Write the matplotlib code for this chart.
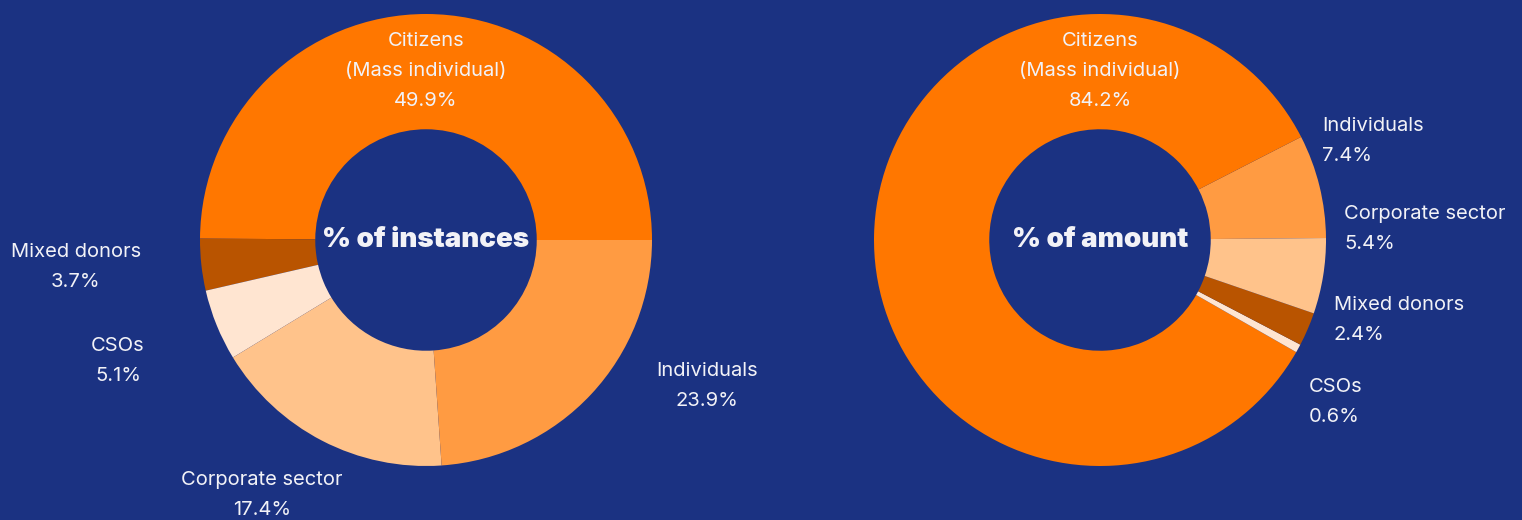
import numpy as np
import matplotlib.pyplot as plt

# ---- data ----
left_labels = ['Citizens\n(Mass individual)', 'Mixed donors', 'CSOs', 'Corporate sector', 'Individuals']
left_values = [49.9, 3.7, 5.1, 17.4, 23.9]

right_labels = ['Individuals', 'Citizens\n(Mass individual)', 'CSOs', 'Mixed donors', 'Corporate sector']
right_values = [7.4, 84.2, 0.6, 2.4, 5.4]

# colours per category
colors = {
    'Citizens\n(Mass individual)': '#FF7700',
    'Individuals': '#FF9B42',
    'Corporate sector': '#FFC38B',
    'CSOs': '#FFE5D1',
    'Mixed donors': '#B95400',
}

BG = '#1B3282'
TXT = '#F2F2F7'
FONT = ['Inter', 'DejaVu Sans']

# label anchor points (data coords, radius 1 = outer edge)
left_pos = {
    'Citizens\n(Mass individual)': (0.0, 0.748, 'center'),
    'Individuals': (1.243, -0.646, 'center'),
    'Corporate sector': (-0.726, -1.128, 'center'),
    'CSOs': (-1.363, -0.535, 'center'),
    'Mixed donors': (-1.549, -0.12, 'center'),
}
right_pos = {
    'Citizens\n(Mass individual)': (0.0, 0.748, 'center'),
    'Individuals': (0.982, 0.438, 'left'),
    'Corporate sector': (1.080, 0.049, 'left'),
    'Mixed donors': (1.035, -0.354, 'left'),
    'CSOs': (0.925, -0.717, 'left'),
}

fig = plt.figure(figsize=(15.22, 5.2), dpi=100, facecolor=BG)

R = 226  # outer radius in px
W, H = 1522, 520


def donut(cx, cy, labels, values, pos, title, start):
    ax = fig.add_axes([(cx - R) / W, (H - cy - R) / H, 2 * R / W, 2 * R / H])
    ax.set_facecolor(BG)
    ax.pie(values, colors=[colors[l] for l in labels], startangle=start,
           counterclock=True, radius=1,
           wedgeprops=dict(width=0.51, linewidth=0))
    ax.set_xlim(-1, 1)
    ax.set_ylim(-1, 1)
    ax.set_aspect('equal')
    ax.axis('off')
    for lab, v in zip(labels, values):
        x, y, ha = pos[lab]
        ax.text(x, y, f'{lab}\n{v:.1f}%', ha=ha, va='center', color=TXT,
                fontsize=14.5, family=FONT, linespacing=1.85, clip_on=False,
                multialignment=ha)
    ax.text(0, 0, title, ha='center', va='center', color=TXT,
            fontsize=20, fontweight='black', family=FONT)
    return ax


donut(426, 240, left_labels, left_values, left_pos, '% of instances', 0)
donut(1100, 240, right_labels, right_values, right_pos, '% of amount', 0.5)

plt.savefig('out.png', dpi=100, facecolor=BG)
